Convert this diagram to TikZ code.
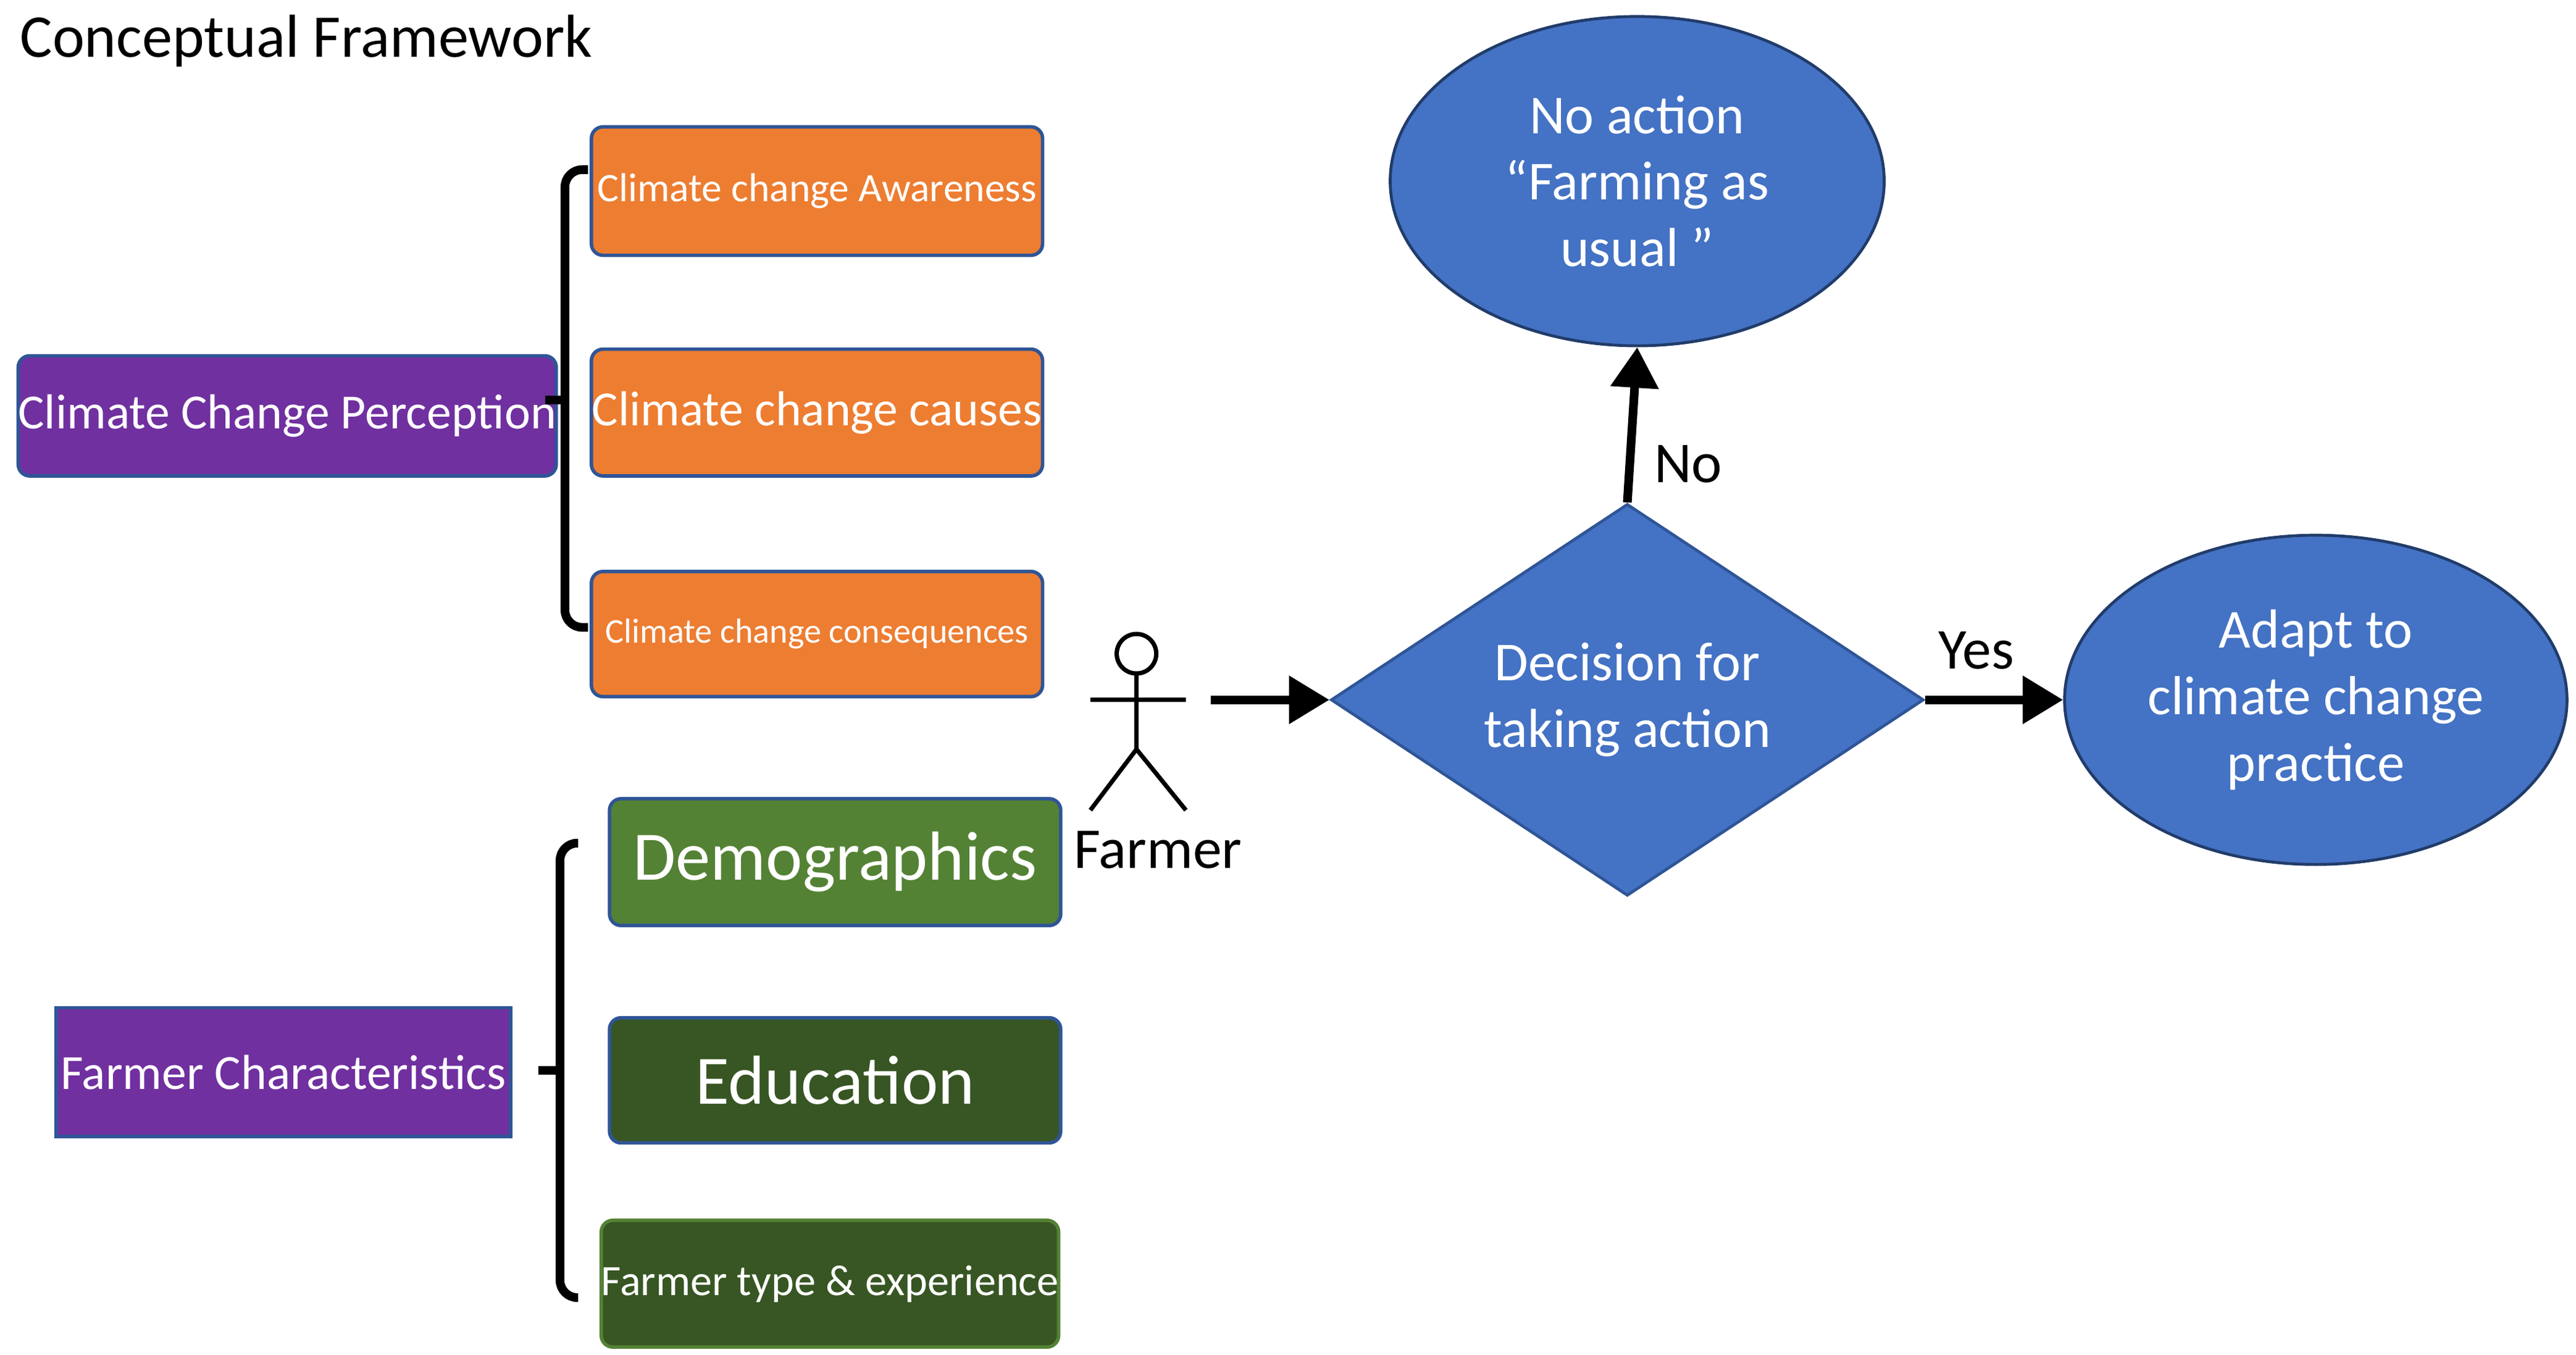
\documentclass[tikz,border=0pt]{standalone}
\usepackage{fontspec}
\setmainfont{Carlito}
\usetikzlibrary{shapes.geometric,arrows.meta}
\definecolor{pur}{HTML}{7030A0}
\definecolor{org}{HTML}{ED7D31}
\definecolor{grn}{HTML}{548235}
\definecolor{dgrn}{HTML}{375623}
\definecolor{blu}{HTML}{4472C4}
\definecolor{bord}{HTML}{2F5597}
\begin{document}
\begin{tikzpicture}[x=0.02cm,y=-0.02cm,
  box/.style={draw=bord,line width=1.2pt,rounded corners=4pt,text=white,inner sep=0pt},
  arr/.style={line width=3pt,-{Triangle[length=14pt,width=16pt]}},
  brk/.style={line width=3pt,rounded corners=6pt}]
\useasboundingbox (0,0) rectangle (1564,822.5);
\node[anchor=west,font=\fontsize{21}{24}\selectfont] (title) at (6,25) {Conceptual Framework};
\node[box,fill=pur,minimum width=313\pgflinewidth,anchor=north west,minimum width=6.26cm,minimum height=1.46cm,font=\fontsize{17}{20}\selectfont] (ccp) at (10,215) {Climate Change Perception};
\node[box,fill=org,anchor=north west,minimum width=5.48cm,minimum height=1.56cm,font=\fontsize{14}{17}\selectfont] (aw) at (358,76) {Climate change Awareness};
\node[box,fill=org,anchor=north west,minimum width=5.48cm,minimum height=1.54cm,font=\fontsize{17}{20}\selectfont] (ca) at (358,211) {Climate change causes};
\node[box,fill=org,anchor=north west,minimum width=5.48cm,minimum height=1.52cm,font=\fontsize{12}{14}\selectfont] (co) at (358,346) {Climate change consequences};
\draw[brk] (357,103) -- (343,103) -- (343,381) -- (357,381);
\draw[line width=3pt] (343,243) -- (331,243);
\node[box,fill=grn,anchor=north west,minimum width=5.48cm,minimum height=1.54cm,font=\fontsize{24}{28}\selectfont] (dem) at (369,484) {Demographics};
\node[box,fill=dgrn,anchor=north west,minimum width=5.48cm,minimum height=1.52cm,font=\fontsize{24}{28}\selectfont] (edu) at (369,617) {Education};
\node[box,draw=grn,fill=dgrn,anchor=north west,minimum width=5.48cm,minimum height=1.54cm,font=\fontsize{15}{18}\selectfont] (ft) at (364,740) {Farmer type \& experience};
\node[box,rounded corners=0pt,fill=pur,anchor=north west,minimum width=5.52cm,minimum height=1.56cm,font=\fontsize{17}{20}\selectfont] (fc) at (33,611) {Farmer Characteristics};
\draw[brk] (351,512) -- (340,512) -- (340,788) -- (351,788);
\draw[line width=3pt] (340,650) -- (327,650);
% stick figure
\draw[line width=1.5pt] (690,397) circle (12);
\coordinate (neck) at (690,409);
\coordinate (hip) at (690,455);
\draw[line width=1.5pt] (neck) -- (hip) (662,425) -- (720,425) (hip) -- (662,492) (hip) -- (720,492);
\node[font=\fontsize{20}{24}\selectfont] (farmer) at (703,516) {Farmer};
\coordinate (fa) at (735,425);
\node[diamond,draw=bord,fill=blu,line width=1pt,minimum width=7.2cm,minimum height=4.76cm,inner sep=0pt,aspect=1.5,text=white,align=center,font=\fontsize{19}{23}\selectfont] (dec) at (988,425) {Decision for\\taking action};
\node[ellipse,draw=bord!70!black,fill=blu,line width=1pt,minimum width=6cm,minimum height=4cm,text=white,align=center,font=\fontsize{19}{23}\selectfont] (no) at (994,110) {No action\\“Farming as\\usual ”};
\node[ellipse,draw=bord!70!black,fill=blu,line width=1pt,minimum width=6cm,minimum height=4cm,text=white,align=center,font=\fontsize{19}{23}\selectfont] (ad) at (1406,425) {Adapt to\\climate change\\practice};
\draw[arr] (fa) -- (dec.west);
\draw[arr] (dec.north) -- (no.south);
\draw[arr] (dec.east) -- (ad.west);
\node[font=\fontsize{20}{24}\selectfont] (nol) at (1025,282) {No};
\node[font=\fontsize{20}{24}\selectfont] (yesl) at (1200,395) {Yes};
\end{tikzpicture}
\end{document}
